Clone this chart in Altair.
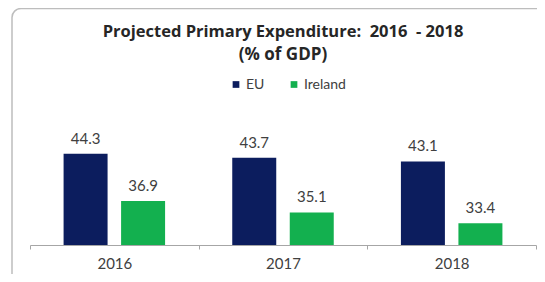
import altair as alt
import pandas as pd

years = ["2016", "2017", "2018"]
eu = [44.3, 43.7, 43.1]
ireland = [36.9, 35.1, 33.4]
series = ["EU", "Ireland"]
colors = ["#0c1d5e", "#13b04f"]
title_text = "Projected Primary Expenditure:\u00a0 2016\u00a0 - 2018"
subtitle_text = "(% of GDP)"

rows = []
for i, yr in enumerate(years):
    rows.append({"year": yr, "series": "EU", "value": eu[i]})
    rows.append({"year": yr, "series": "Ireland", "value": ireland[i]})
df = pd.DataFrame(rows)

W, H = 506, 102
font = "Lato"
txt = "#404040"

x = alt.X("year:N", sort=years, title=None,
          scale=alt.Scale(paddingInner=0, paddingOuter=0),
          axis=alt.Axis(tickBand="extent", labelAngle=0, domainColor="#a6a6a6",
                        tickColor="#a6a6a6", tickSize=4, labelFont=font,
                        labelFontSize=15, labelColor=txt, labelPadding=7,
                        grid=False, zindex=1))
xo = alt.XOffset("series:N", sort=series,
                 scale=alt.Scale(paddingInner=0.235, paddingOuter=0.584))
y = alt.Y("value:Q", scale=alt.Scale(domain=[30, 46], zero=False, clamp=True), axis=None)

border = alt.Chart(pd.DataFrame({"a": [0]})).mark_rect(
    fill="white", fillOpacity=0, stroke="#bdbdbd", strokeWidth=1.5, cornerRadius=9
).encode(x=alt.value(-18), x2=alt.value(W + 40), y=alt.value(-134.5), y2=alt.value(H + 40))

bars = alt.Chart(df).mark_bar().encode(
    x=x, xOffset=xo, y=y,
    color=alt.Color("series:N", sort=series,
                    scale=alt.Scale(domain=series, range=colors),
                    legend=alt.Legend(orient="none", legendX=199, legendY=-65.5,
                                      direction="horizontal", title=None,
                                      symbolType="square", symbolSize=45,
                                      symbolStrokeWidth=0, labelFont=font,
                                      labelFontSize=14, labelColor=txt,
                                      labelOffset=3, columnPadding=22)),
)

labels = alt.Chart(df).mark_text(
    font=font, fontSize=15, color=txt, dy=-10, baseline="alphabetic"
).encode(x=x, xOffset=xo, y=y, text=alt.Text("value:Q", format=".1f"))

chart = alt.layer(border, bars, labels).properties(
    width=W, height=H,
    padding={"left": 22, "top": 135, "right": 1, "bottom": 29},
    autosize=alt.AutoSizeParams(type="none"),
    title=alt.Title(text=title_text, subtitle=subtitle_text, anchor="middle",
                    font="Open Sans", fontSize=16.5, fontWeight="bold", color="#262626",
                    subtitleFont="Open Sans", subtitleFontSize=17,
                    subtitleFontWeight="bold", subtitleColor="#262626",
                    subtitlePadding=6, offset=-55),
).configure_view(stroke=None)

chart.save("out.html", embed_options={"renderer": "svg", "actions": False})
